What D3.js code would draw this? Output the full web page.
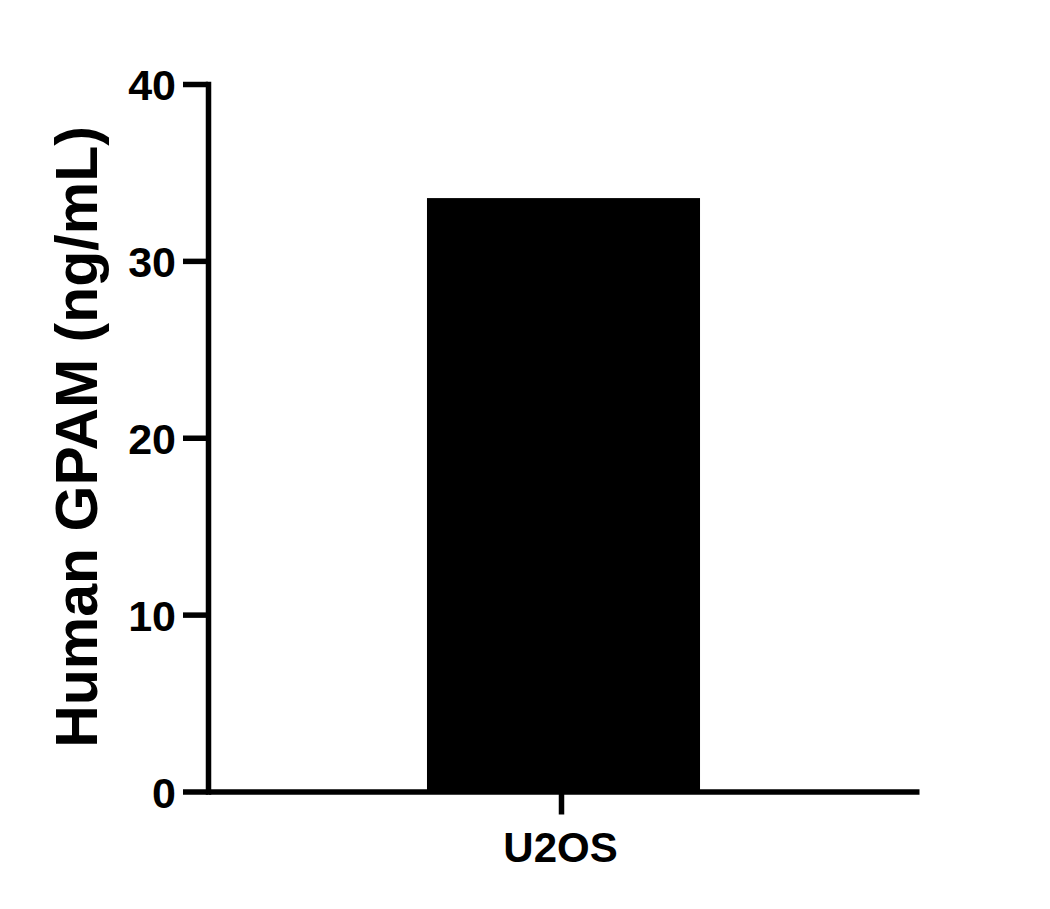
<!DOCTYPE html>
<html>
<head>
<meta charset="utf-8">
<script src="https://cdn.jsdelivr.net/npm/d3@7"></script>
<style>
  html, body { margin: 0; padding: 0; background: #fff; }
  svg { display: block; }
</style>
</head>
<body>
<svg id="chart" width="1050" height="909"></svg>
<script>
const categories = ["U2OS"];
const values = [33.55];
const yTicks = [0, 10, 20, 30, 40];
const yTitle = "Human GPAM (ng/mL)";

const svg = d3.select("#chart");
const font = "'Liberation Sans', Arial, Helvetica, sans-serif";

const y = d3.scaleLinear().domain([0, 40]).range([791.5, 84]);
const x = d3.scaleBand().domain(categories).range([208, 919]).paddingInner(0).paddingOuter(0.802);

// bars
svg.append("g").selectAll("rect").data(values).join("rect")
  .attr("x", (d, i) => x(categories[i]))
  .attr("width", x.bandwidth())
  .attr("y", d => y(d))
  .attr("height", d => y(0) - y(d))
  .attr("fill", "#000");

// y axis
const ya = svg.append("g").attr("transform", "translate(208,0)")
  .call(d3.axisLeft(y).tickValues(yTicks).tickSize(25).tickSizeOuter(0).tickFormat(d3.format("d")));
ya.select(".domain").attr("stroke", "#000").attr("stroke-width", 5.5).attr("stroke-linecap", "square");
ya.selectAll(".tick line").attr("stroke", "#000").attr("stroke-width", 5.5);
ya.selectAll(".tick text")
  .attr("x", -32).attr("dy", null).attr("y", 15.5)
  .attr("text-anchor", "end")
  .attr("fill", "#000")
  .style("font-family", font).style("font-weight", "bold").style("font-size", "43px");

// x axis
const xa = svg.append("g").attr("transform", "translate(0,791.5)")
  .call(d3.axisBottom(x).tickSize(23).tickSizeOuter(0));
xa.select(".domain").attr("stroke", "#000").attr("stroke-width", 5.5);
xa.selectAll(".tick line").attr("stroke", "#000").attr("stroke-width", 5.5).attr("transform", "translate(-2,0)");
xa.selectAll(".tick text")
  .attr("x", -3).attr("dy", null).attr("y", 70.5)
  .attr("text-anchor", "middle")
  .attr("fill", "#000")
  .style("font-family", font).style("font-weight", "bold").style("font-size", "42px");

// y title
svg.append("text")
  .attr("transform", "translate(97,437) rotate(-90)")
  .attr("text-anchor", "middle")
  .attr("fill", "#000")
  .style("font-family", font).style("font-weight", "bold").style("font-size", "59px")
  .text(yTitle);
</script>
</body>
</html>
